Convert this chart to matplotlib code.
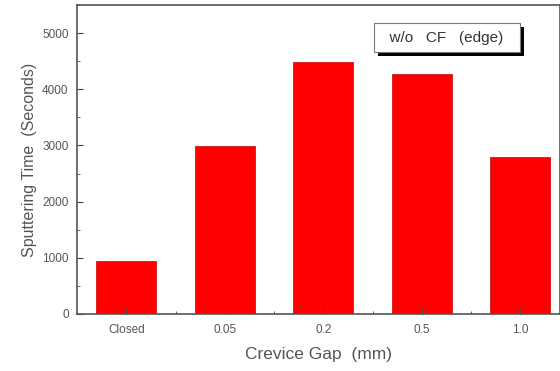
import matplotlib
matplotlib.use('Agg')
import matplotlib.pyplot as plt
import matplotlib.patheffects as pe
from matplotlib.ticker import MultipleLocator

plt.rcParams['font.family'] = ['Liberation Sans', 'DejaVu Sans']

gaps = ['Closed', '0.05', '0.2', '0.5', '1.0']
times = [940, 2990, 4490, 4280, 2790]

grey = '#555555'
fig = plt.figure(figsize=(5.6, 3.71), dpi=100)
ax = fig.add_axes([0.1375, 0.154, 0.862, 0.832])

x = list(range(len(gaps)))
ax.bar(x, times, width=0.61, color='#ff0000', edgecolor='#cc0000', linewidth=0.5)

ax.set_xlim(-0.5, 4.4)
ax.set_ylim(0, 5500)
ax.set_xticks(x)
ax.set_xticklabels(gaps)
ax.xaxis.set_minor_locator(MultipleLocator(0.5))
ax.yaxis.set_major_locator(MultipleLocator(1000))
ax.yaxis.set_minor_locator(MultipleLocator(500))
ax.tick_params(which='both', direction='in', colors='#444444', labelcolor=grey,
               labelsize=8.5, top=False, right=False)
ax.tick_params(which='major', length=4)
ax.tick_params(which='minor', length=2.5)
ax.tick_params(axis='x', pad=7)
ax.tick_params(axis='y', pad=6)
for s in ax.spines.values():
    s.set_color('#555555')
    s.set_linewidth(1.2)

ax.set_xlabel('Crevice Gap  (mm)', fontsize=12.5, color=grey, labelpad=8)
ax.set_ylabel('Sputtering Time  (Seconds)', fontsize=11.5, color=grey, labelpad=4)

t = ax.text(0.766, 0.895, '  w/o   CF   (edge)  ', transform=ax.transAxes, ha='center', va='center',
            fontsize=11, color='#333333',
            bbox=dict(boxstyle='square,pad=0.5', facecolor='white', edgecolor='#777777', linewidth=0.8))
t.get_bbox_patch().set_path_effects([pe.withSimplePatchShadow(offset=(3, -3), shadow_rgbFace='black', alpha=1)])

fig.savefig('out.png', dpi=100)
